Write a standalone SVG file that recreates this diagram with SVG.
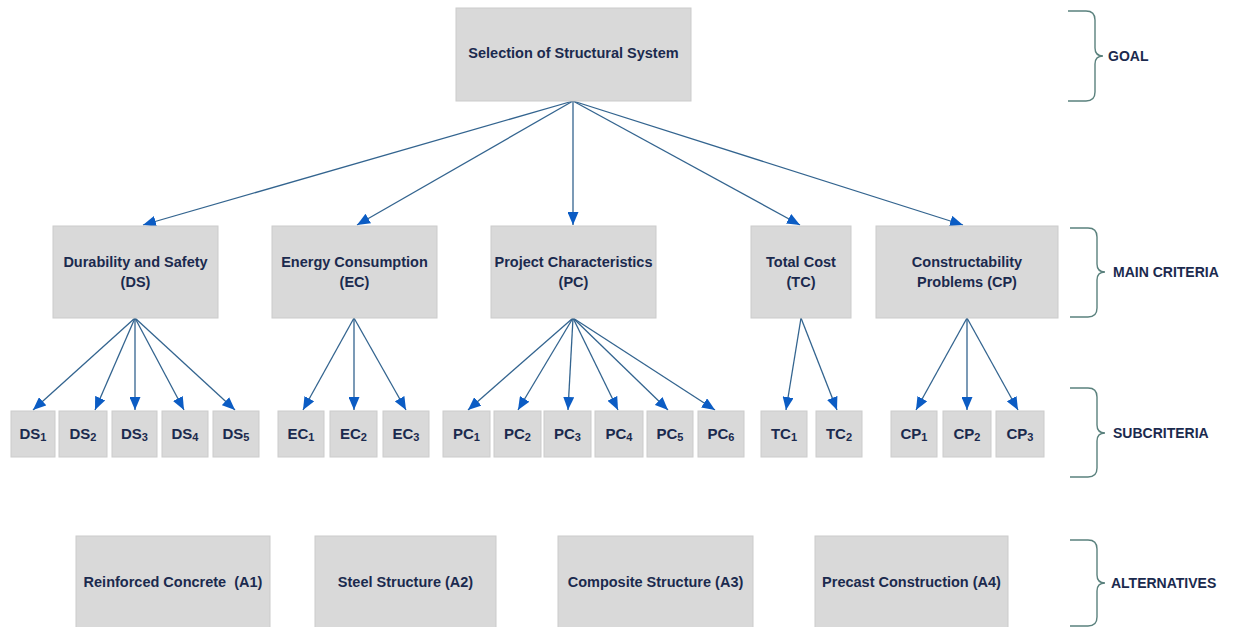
<svg xmlns="http://www.w3.org/2000/svg" width="1238" height="627" viewBox="0 0 1238 627">
<style>
.box{fill:#d9d9d9;stroke:#cbcbcb;stroke-width:1}
.t{font-family:"Liberation Sans",Arial,sans-serif;font-weight:bold;font-size:14.5px;fill:#1b2a4e;text-anchor:middle}
.s{font-family:"Liberation Sans",Arial,sans-serif;font-weight:bold;font-size:15px;fill:#1b2a4e;text-anchor:middle}
.sub{font-size:11px}
.lab{font-family:"Liberation Sans",Arial,sans-serif;font-weight:bold;font-size:14px;fill:#1b2a4e}
.c{stroke:#33648f;stroke-width:1.3;fill:none;marker-end:url(#ah)}
.br{stroke:#5a817d;stroke-width:1.4;fill:none}
</style>
<defs>
<marker id="ah" markerUnits="userSpaceOnUse" viewBox="0 0 13 11" refX="13" refY="5.5" markerWidth="13" markerHeight="11" orient="auto">
<path d="M0,0 L13,5.5 L0,11 z" fill="#0b5cc4"/>
</marker>
</defs>
<rect width="1238" height="627" fill="#ffffff"/>
<g id="connectors">
<line class="c" x1="573" y1="101" x2="143" y2="225"/>
<line class="c" x1="573" y1="101" x2="357" y2="225"/>
<line class="c" x1="573" y1="101" x2="573" y2="225"/>
<line class="c" x1="573" y1="101" x2="800" y2="225"/>
<line class="c" x1="573" y1="101" x2="963" y2="225"/>
<line class="c" x1="135" y1="318" x2="33" y2="410"/>
<line class="c" x1="135" y1="318" x2="95" y2="410"/>
<line class="c" x1="135" y1="318" x2="135" y2="410"/>
<line class="c" x1="135" y1="318" x2="184" y2="410"/>
<line class="c" x1="135" y1="318" x2="235" y2="410"/>
<line class="c" x1="354" y1="318" x2="303" y2="410"/>
<line class="c" x1="354" y1="318" x2="354" y2="410"/>
<line class="c" x1="354" y1="318" x2="406" y2="410"/>
<line class="c" x1="573" y1="318" x2="468" y2="410"/>
<line class="c" x1="573" y1="318" x2="518" y2="410"/>
<line class="c" x1="573" y1="318" x2="568" y2="410"/>
<line class="c" x1="573" y1="318" x2="618" y2="410"/>
<line class="c" x1="573" y1="318" x2="668" y2="410"/>
<line class="c" x1="573" y1="318" x2="715" y2="410"/>
<line class="c" x1="801" y1="318" x2="786" y2="410"/>
<line class="c" x1="801" y1="318" x2="837" y2="410"/>
<line class="c" x1="967" y1="318" x2="916" y2="410"/>
<line class="c" x1="967" y1="318" x2="967" y2="410"/>
<line class="c" x1="967" y1="318" x2="1018" y2="410"/>
</g>
<g id="goal"><rect class="box" x="456" y="8" width="235" height="93"/><text class="t" x="573.5" y="58">Selection of Structural System</text></g>
<g id="DS"><rect class="box" x="53" y="226" width="165" height="92"/><text class="t" x="135.5" y="267">Durability and Safety</text><text class="t" x="135.5" y="287">(DS)</text></g>
<g id="EC"><rect class="box" x="272" y="226" width="165" height="92"/><text class="t" x="354.5" y="267">Energy Consumption</text><text class="t" x="354.5" y="287">(EC)</text></g>
<g id="PC"><rect class="box" x="491" y="226" width="165" height="92"/><text class="t" x="573.5" y="267">Project Characteristics</text><text class="t" x="573.5" y="287">(PC)</text></g>
<g id="TC"><rect class="box" x="751" y="226" width="100" height="92"/><text class="t" x="801" y="267">Total Cost</text><text class="t" x="801" y="287">(TC)</text></g>
<g id="CP"><rect class="box" x="876" y="226" width="182" height="92"/><text class="t" x="967" y="267">Constructability</text><text class="t" x="967" y="287">Problems (CP)</text></g>
<g id="DS1"><rect class="box" x="11" y="411" width="44" height="46"/><text class="s" x="33" y="439">DS<tspan class="sub" dy="2">1</tspan></text></g>
<g id="DS2"><rect class="box" x="59" y="411" width="48" height="46"/><text class="s" x="83" y="439">DS<tspan class="sub" dy="2">2</tspan></text></g>
<g id="DS3"><rect class="box" x="112" y="411" width="45" height="46"/><text class="s" x="134.5" y="439">DS<tspan class="sub" dy="2">3</tspan></text></g>
<g id="DS4"><rect class="box" x="162" y="411" width="46" height="46"/><text class="s" x="185" y="439">DS<tspan class="sub" dy="2">4</tspan></text></g>
<g id="DS5"><rect class="box" x="213" y="411" width="46" height="46"/><text class="s" x="236" y="439">DS<tspan class="sub" dy="2">5</tspan></text></g>
<g id="EC1"><rect class="box" x="278" y="411" width="46" height="46"/><text class="s" x="301" y="439">EC<tspan class="sub" dy="2">1</tspan></text></g>
<g id="EC2"><rect class="box" x="330" y="411" width="47" height="46"/><text class="s" x="353.5" y="439">EC<tspan class="sub" dy="2">2</tspan></text></g>
<g id="EC3"><rect class="box" x="383" y="411" width="46" height="46"/><text class="s" x="406" y="439">EC<tspan class="sub" dy="2">3</tspan></text></g>
<g id="PC1"><rect class="box" x="443" y="411" width="47" height="46"/><text class="s" x="466.5" y="439">PC<tspan class="sub" dy="2">1</tspan></text></g>
<g id="PC2"><rect class="box" x="494" y="411" width="47" height="46"/><text class="s" x="517.5" y="439">PC<tspan class="sub" dy="2">2</tspan></text></g>
<g id="PC3"><rect class="box" x="544" y="411" width="47" height="46"/><text class="s" x="567.5" y="439">PC<tspan class="sub" dy="2">3</tspan></text></g>
<g id="PC4"><rect class="box" x="595" y="411" width="48" height="46"/><text class="s" x="619" y="439">PC<tspan class="sub" dy="2">4</tspan></text></g>
<g id="PC5"><rect class="box" x="647" y="411" width="46" height="46"/><text class="s" x="670" y="439">PC<tspan class="sub" dy="2">5</tspan></text></g>
<g id="PC6"><rect class="box" x="698" y="411" width="46" height="46"/><text class="s" x="721" y="439">PC<tspan class="sub" dy="2">6</tspan></text></g>
<g id="TC1"><rect class="box" x="761" y="411" width="46" height="46"/><text class="s" x="784" y="439">TC<tspan class="sub" dy="2">1</tspan></text></g>
<g id="TC2"><rect class="box" x="816" y="411" width="46" height="46"/><text class="s" x="839" y="439">TC<tspan class="sub" dy="2">2</tspan></text></g>
<g id="CP1"><rect class="box" x="891" y="411" width="46" height="46"/><text class="s" x="914" y="439">CP<tspan class="sub" dy="2">1</tspan></text></g>
<g id="CP2"><rect class="box" x="943" y="411" width="48" height="46"/><text class="s" x="967" y="439">CP<tspan class="sub" dy="2">2</tspan></text></g>
<g id="CP3"><rect class="box" x="996" y="411" width="48" height="46"/><text class="s" x="1020" y="439">CP<tspan class="sub" dy="2">3</tspan></text></g>
<g id="A1"><rect class="box" x="76" y="536" width="194" height="92"/><text class="t" x="173" y="587" xml:space="preserve">Reinforced Concrete  (A1)</text></g>
<g id="A2"><rect class="box" x="315" y="536" width="181" height="92"/><text class="t" x="405.5" y="587">Steel Structure (A2)</text></g>
<g id="A3"><rect class="box" x="558" y="536" width="195" height="92"/><text class="t" x="655.5" y="587">Composite Structure (A3)</text></g>
<g id="A4"><rect class="box" x="815" y="536" width="193" height="92"/><text class="t" x="911.5" y="587">Precast Construction (A4)</text></g>
<g id="levels">
<path class="br" d="M1068,11 H1086 Q1095,11 1095,20 V48 Q1095,56 1103,56 Q1095,56 1095,64 V92 Q1095,101 1086,101 H1068"/>
<text class="lab" x="1108" y="61">GOAL</text>
<path class="br" d="M1070,228 H1088 Q1097,228 1097,237 V264 Q1097,272 1105,272 Q1097,272 1097,280 V308 Q1097,317 1088,317 H1070"/>
<text class="lab" x="1113" y="277">MAIN CRITERIA</text>
<path class="br" d="M1070,388 H1088 Q1097,388 1097,397 V425 Q1097,433 1105,433 Q1097,433 1097,441 V468 Q1097,477 1088,477 H1070"/>
<text class="lab" x="1113" y="438">SUBCRITERIA</text>
<path class="br" d="M1070,540 H1088 Q1097,540 1097,549 V575 Q1097,583 1105,583 Q1097,583 1097,591 V617 Q1097,626 1088,626 H1070"/>
<text class="lab" x="1111" y="588">ALTERNATIVES</text>
</g>
</svg>
